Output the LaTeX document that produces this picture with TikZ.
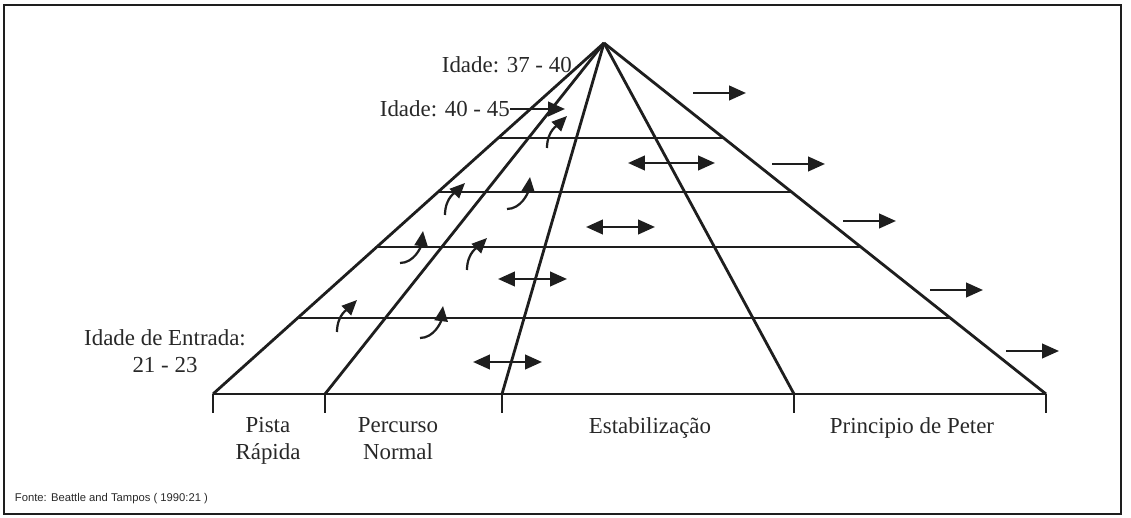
\documentclass[tikz,border=0pt]{standalone}
\usepackage{fontspec}
\setmainfont{Liberation Serif}
\newfontfamily\fontenota{Liberation Sans}
\usepackage{tikz}
\usetikzlibrary{arrows.meta,calc}
\definecolor{tinta}{RGB}{30,30,30}
\definecolor{grafite}{RGB}{40,40,40}

\begin{document}
\begin{tikzpicture}[
  font=\fontsize{16.3}{19.5}\selectfont,
  text=grafite,
  linha/.style={draw=tinta, line width=2pt},
  grade/.style={draw=tinta, line width=1.7pt},
  seta/.style={draw=tinta, line width=1.8pt,
               -{Triangle[length=4.2mm,width=3.6mm]}},
  dupla/.style={draw=tinta, line width=1.8pt,
                {Triangle[length=4.2mm,width=3.6mm]}-{Triangle[length=4.2mm,width=3.6mm]}},
  subida/.style={draw=tinta, line width=1.6pt,
                 -{Triangle[length=3.8mm,width=3.3mm]}},
  idade/.style={anchor=east, inner sep=0pt},
  faixa/.style={anchor=north, align=center, inner sep=0pt},
]
\useasboundingbox (0,0) rectangle (28.275,12.925);
% --- Moldura ------------------------------------------------------------------
\draw[draw=tinta, line width=1.4pt] (0.1,0.075) rectangle (28.025,12.8);
% --- Piramide -----------------------------------------------------------------
\coordinate (topo) at (15.1,11.85);
\coordinate (b1) at (5.325,3.075);
\coordinate (b2) at (8.125,3.075);
\coordinate (b3) at (12.55,3.075);
\coordinate (b4) at (19.85,3.075);
\coordinate (b5) at (26.15,3.075);
\foreach \i in {1,...,5} {
  \draw[linha] (topo) -- (b\i);
  \draw[linha] (b\i) -- ++(0,-0.475);
}
\draw[linha] (b1) -- (b5);
\foreach \y in {9.475,8.125,6.75,4.975} {
  \pgfmathsetmacro\t{(11.85-\y)/8.775}
  \draw[grade] ($(topo)!\t!(b1)$) -- ($(topo)!\t!(b5)$);
}
% --- Setas --------------------------------------------------------------------
\foreach \x/\y in {17.325/10.6, 19.3/8.825, 21.075/7.4, 23.25/5.675, 25.15/4.15}
  \draw[seta] (\x,\y) -- ++(1.325,0);
\foreach \x/\y/\c in {15.7/8.85/2.175, 14.65/7.25/1.725, 12.45/5.95/1.725,
                      11.825/3.875/1.725}
  \draw[dupla] (\x,\y) -- ++(\c,0);
\foreach \x/\y in {13.675/9.225, 11.125/7.55, 11.675/6.175, 8.425/4.625}
  \draw[subida] (\x,\y) .. controls +(0,0.45) and +(-0.2,-0.2) .. ({\x+0.5},{\y+0.8});
\foreach \x/\y in {12.675/7.7, 10.0/6.35, 10.5/4.475}
  \draw[subida] (\x,\y) .. controls +(0.35,0) and +(-0.05,-0.4) .. ({\x+0.575},{\y+0.8});
% --- Textos -------------------------------------------------------------------
\node[idade] (idade1) at (14.3,11.3) {Idade: 37 - 40};
\node[idade] (idade2) at (12.75,10.2) {Idade: 40 - 45};
\coordinate (ponta) at (14.125,10.2);
\draw[seta] (idade2.east) -- (ponta);
\node[align=center, inner sep=0pt] (entrada) at (4.125,4.15)
  {Idade de Entrada:\\21 - 23};
\node[faixa] (pista) at (6.7,2.5) {Pista\\Rápida};
\node[faixa] (percurso) at (9.95,2.5) {Percurso\\Normal};
\node[faixa] (estab) at (16.25,2.5) {Estabilização};
\node[faixa] (peter) at (22.8,2.5) {Principio de Peter};
\node[anchor=west, font=\fontenota\fontsize{8}{9.5}\selectfont] (fonte)
  at (0.25,0.45) {Fonte: Beattle and Tampos ( 1990:21 )};
\end{tikzpicture}
\end{document}
